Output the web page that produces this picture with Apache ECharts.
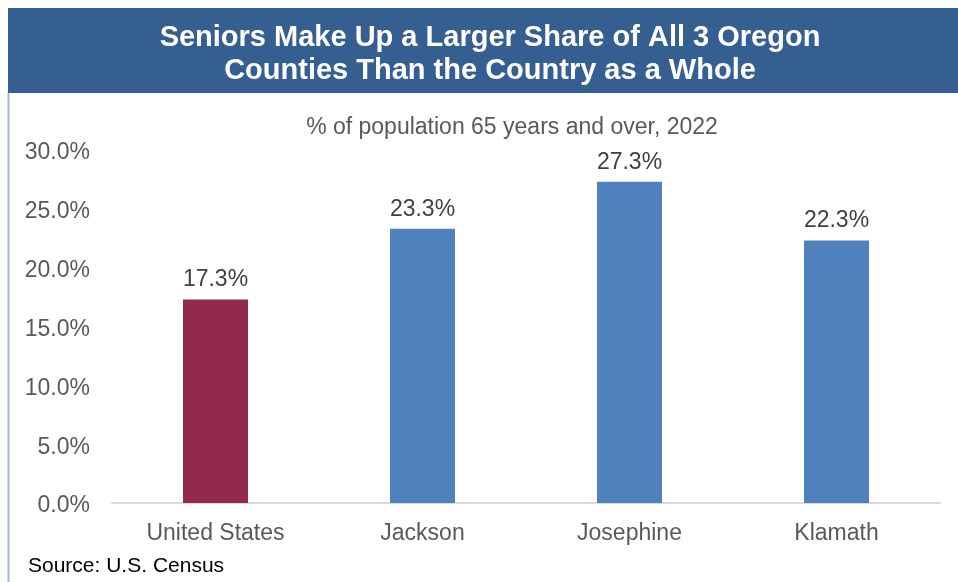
<!DOCTYPE html>
<html><head><meta charset="utf-8">
<script src="https://cdn.jsdelivr.net/npm/echarts@6/dist/echarts.min.js"></script>
<style>html,body{margin:0;padding:0;background:#fff}#c{width:958px;height:582px}</style>
</head><body><div id="c"></div>
<script>
const categories = ['United States', 'Jackson', 'Josephine', 'Klamath'];
const values = [17.3, 23.3, 27.3, 22.3];
const barColors = ['#95294b', '#4f81bd', '#4f81bd', '#4f81bd'];
const yTicks = [0, 5, 10, 15, 20, 25, 30];

const chart = echarts.init(document.getElementById('c'));
const font = 'Liberation Sans, Arial, sans-serif';
chart.setOption({
  animation: false,
  graphic: [
    {type: 'rect', shape: {x: 8, y: 8, width: 950, height: 85}, style: {fill: '#365f91'}},
    {type: 'line', shape: {x1: 8.5, y1: 93, x2: 8.5, y2: 582}, style: {stroke: '#a6b8d4', lineWidth: 2}},
    {type: 'text', style: {x: 490, y: 38, text: 'Seniors Make Up a Larger Share of All 3 Oregon', fill: '#fff', font: 'bold 29px ' + font, textAlign: 'center', textVerticalAlign: 'middle'}},
    {type: 'text', style: {x: 490, y: 71, text: 'Counties Than the Country as a Whole', fill: '#fff', font: 'bold 29px ' + font, textAlign: 'center', textVerticalAlign: 'middle'}},
    {type: 'text', style: {x: 512, y: 128, text: '% of population 65 years and over, 2022', fill: '#595959', font: '23px ' + font, textAlign: 'center', textVerticalAlign: 'middle'}},
    {type: 'text', style: {x: 28, y: 566, text: 'Source: U.S. Census', fill: '#000', font: '21px ' + font, textAlign: 'left', textVerticalAlign: 'middle'}}
  ],
  grid: {left: 112, right: 18, top: 150, bottom: 79},
  xAxis: {
    type: 'category', data: categories,
    axisLine: {lineStyle: {color: '#d9d9d9', width: 2}},
    axisTick: {show: false},
    axisLabel: {color: '#595959', fontSize: 23, fontFamily: font, margin: 19}
  },
  yAxis: {
    type: 'value', min: 0, max: 30, interval: 5,
    splitLine: {show: false},
    axisLine: {show: false}, axisTick: {show: false},
    axisLabel: {margin: 22,
      formatter: v => '{a|' + v.toFixed(1) + '%}',
      rich: {a: {color: '#595959', fontSize: 23, fontFamily: font, padding: [6, 0, 0, 0]}}}
  },
  series: [{
    type: 'bar', barWidth: '31.4%',
    data: values.map((v, i) => ({value: v, itemStyle: {color: barColors[i]}})),
    label: {show: true, position: 'top', distance: 8, color: '#404040', fontSize: 23, fontFamily: font,
      formatter: p => p.value.toFixed(1) + '%'}
  }]
});
</script></body></html>
